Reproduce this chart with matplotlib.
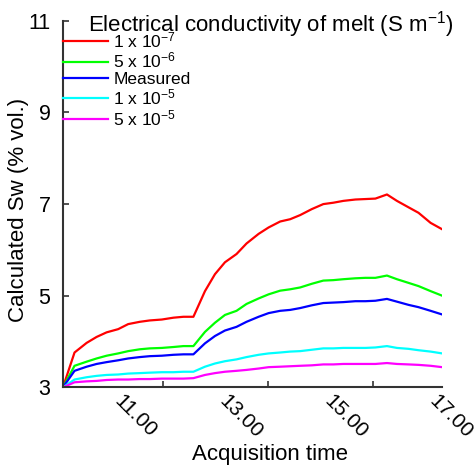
import matplotlib as mpl
mpl.use("Agg")
import matplotlib.pyplot as plt
from matplotlib.ticker import FixedLocator, NullFormatter, FixedFormatter

mpl.rcParams.update({'font.family': 'Liberation Sans',
                     'mathtext.fontset': 'custom',
                     'mathtext.rm': 'Liberation Sans',
                     'mathtext.it': 'Liberation Sans'})

# acquisition time in decimal hours
hours = [10.10, 10.32, 10.55, 10.74, 10.93, 11.15, 11.34, 11.56, 11.75, 11.98,
         12.20, 12.39, 12.58, 12.80, 12.99, 13.18, 13.40, 13.59, 13.82, 14.01,
         14.23, 14.42, 14.61, 14.83, 15.05, 15.24, 15.43, 15.66, 15.85, 16.04,
         16.26, 16.45, 16.67, 16.86, 17.09, 17.31]

sw_1e7 = [3.00, 3.76, 3.97, 4.10, 4.20, 4.27, 4.38, 4.43, 4.46, 4.48,
          4.52, 4.54, 4.54, 5.10, 5.47, 5.73, 5.91, 6.14, 6.35, 6.49,
          6.62, 6.67, 6.76, 6.89, 7.00, 7.03, 7.07, 7.10, 7.11, 7.12,
          7.21, 7.07, 6.93, 6.81, 6.59, 6.45]
sw_5e6 = [3.00, 3.47, 3.56, 3.63, 3.69, 3.74, 3.79, 3.83, 3.85, 3.86,
          3.88, 3.90, 3.90, 4.21, 4.41, 4.58, 4.67, 4.82, 4.94, 5.03,
          5.11, 5.14, 5.18, 5.26, 5.33, 5.34, 5.36, 5.38, 5.39, 5.39,
          5.44, 5.36, 5.28, 5.21, 5.10, 5.00]
sw_meas = [3.00, 3.36, 3.45, 3.51, 3.55, 3.59, 3.63, 3.66, 3.68, 3.69,
           3.71, 3.72, 3.72, 3.96, 4.12, 4.24, 4.32, 4.43, 4.54, 4.62,
           4.67, 4.69, 4.73, 4.79, 4.84, 4.85, 4.86, 4.88, 4.88, 4.89,
           4.93, 4.87, 4.80, 4.75, 4.67, 4.59]
sw_1e5 = [3.00, 3.17, 3.22, 3.25, 3.27, 3.28, 3.30, 3.31, 3.32, 3.33,
          3.33, 3.34, 3.34, 3.45, 3.52, 3.57, 3.61, 3.66, 3.71, 3.74,
          3.76, 3.78, 3.79, 3.82, 3.85, 3.85, 3.86, 3.86, 3.86, 3.87,
          3.90, 3.86, 3.84, 3.81, 3.78, 3.74]
sw_5e5 = [3.00, 3.11, 3.13, 3.14, 3.16, 3.17, 3.17, 3.18, 3.18, 3.19,
          3.19, 3.19, 3.20, 3.27, 3.31, 3.34, 3.36, 3.38, 3.41, 3.44,
          3.45, 3.46, 3.47, 3.48, 3.50, 3.50, 3.51, 3.51, 3.51, 3.51,
          3.53, 3.51, 3.50, 3.49, 3.47, 3.44]

series = [sw_1e7, sw_5e6, sw_meas, sw_1e5, sw_5e5]
labels = ["1 x 10$^{-7}$", "5 x 10$^{-6}$", "Measured", "1 x 10$^{-5}$", "5 x 10$^{-5}$"]
colors = ["#ff0000", "#00ff00", "#0000ff", "#00ffff", "#ff00ff"]

tick_pos = [12, 14, 16]
label_pos = [11, 13, 15, 17]
label_txt = ["11.00", "13.00", "15.00", "17.00"]

fig = plt.figure(figsize=(4.77, 4.68), dpi=100)
ax = fig.add_axes([0.132, 0.1724, 0.795, 0.783])

for s, lab, c in zip(series, labels, colors):
    ax.plot(hours, s, color=c, lw=1.6, label=lab)

ax.set_xlim(10.1, 17.31)
ax.set_ylim(3, 11)
ax.set_yticks([3, 5, 7, 9, 11])

ax.xaxis.set_major_locator(FixedLocator(tick_pos))
ax.xaxis.set_major_formatter(NullFormatter())
ax.xaxis.set_minor_locator(FixedLocator(label_pos))
ax.xaxis.set_minor_formatter(FixedFormatter(label_txt))
ax.tick_params(axis='x', which='minor', length=0, labelsize=15, pad=3)
for t in ax.xaxis.get_minorticklabels():
    t.set_rotation(-45)
    t.set_ha('left')
    t.set_va('top')

ax.tick_params(axis='both', which='major', direction='in', length=4, width=1.2,
               color='#333333')
ax.tick_params(axis='y', labelsize=15.5, pad=9)
for side in ['top', 'right']:
    ax.spines[side].set_visible(False)
for side in ['left', 'bottom']:
    ax.spines[side].set_linewidth(1.5)
    ax.spines[side].set_color('#333333')

ax.set_xlabel("Acquisition time", fontsize=16)
ax.xaxis.set_label_coords(0.546, -0.155)
ax.set_ylabel("Calculated Sw (% vol.)", fontsize=16)
ax.yaxis.set_label_coords(-0.09, 0.484)

ax.text(0.066, 0.99, "Electrical conductivity of melt (S m$^{-1}$)", transform=ax.transAxes,
        fontsize=16, ha='left', va='center')
ax.legend(loc='upper left', bbox_to_anchor=(0.0, 0.975), frameon=False, fontsize=12.5,
          handlelength=2.6, handletextpad=0.3, labelspacing=0.05, borderpad=0, borderaxespad=0)

fig.savefig("out.png", dpi=100)
